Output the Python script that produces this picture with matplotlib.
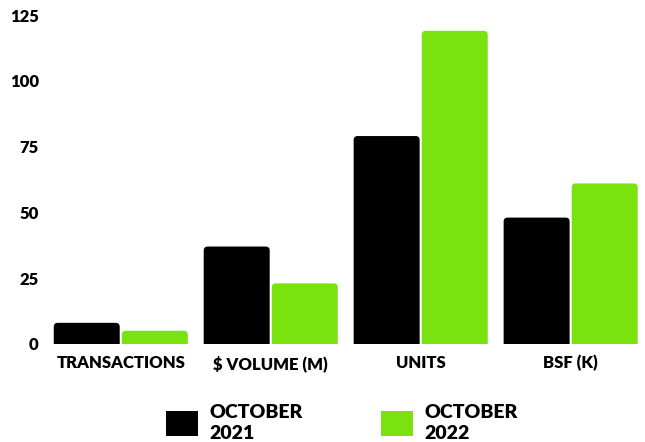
import numpy as np
import matplotlib.pyplot as plt
from matplotlib.patches import FancyBboxPatch, Patch

categories = ['TRANSACTIONS', '$ VOLUME (M)', 'UNITS', 'BSF (K)']
oct_2021 = [8, 37, 79, 48]
oct_2022 = [5, 23, 119, 61]
series_labels = ['OCTOBER\n2021', 'OCTOBER\n2022']
colors = ['#000000', '#7AE20F']

plt.rcParams['font.family'] = ['Lato', 'DejaVu Sans']

fig = plt.figure(figsize=(6.45, 4.42), dpi=100)
ax = fig.add_axes([0.071, 0.222, 0.93, 0.744])

x = np.arange(len(categories))
w = 0.44
b1 = ax.bar(x - w / 2 - 0.007, oct_2021, w, color=colors[0])
b2 = ax.bar(x + w / 2 + 0.007, oct_2022, w, color=colors[1])

ax.set_xlim(-0.5, 3.5)
ax.set_ylim(0, 125)

# rounded tops: swap plain bars for rounded boxes
px_x = 150.0  # pixels per x unit
px_y = 329 / 125.0  # pixels per y unit
r = 4 / px_x
for bars, c in [(b1, colors[0]), (b2, colors[1])]:
    for bar in bars:
        bar.set_visible(False)
        bx, bw, bh = bar.get_x(), bar.get_width(), bar.get_height()
        p = FancyBboxPatch((bx, -3), bw, bh + 3,
                           boxstyle=f'round,pad=0,rounding_size={r}',
                           mutation_aspect=px_x / px_y,
                           facecolor=c, edgecolor='none', clip_on=True)
        ax.add_patch(p)

ax.set_xticks(x)
ax.set_xticklabels(categories, fontsize=12, fontweight='heavy')
ax.set_yticks([0, 25, 50, 75, 100, 125])
ax.set_yticklabels(['0', '25', '50', '75', '100', '125'], fontsize=12, fontweight='heavy')
ax.tick_params(length=0, pad=5)
ax.tick_params(axis='x', pad=8)
for s in ax.spines.values():
    s.set_visible(False)

handles = [Patch(facecolor=colors[0]), Patch(facecolor=colors[1])]
leg = fig.legend(handles, series_labels, loc='center', bbox_to_anchor=(0.53, 0.043),
                 ncol=2, frameon=False, prop={'size': 14, 'weight': 'heavy'},
                 handlelength=1.65, handleheight=1.65, handletextpad=0.6,
                 columnspacing=4.0, borderpad=0)
for t in leg.get_texts():
    t.set_linespacing(1.3)

fig.savefig('out.png', dpi=100)
